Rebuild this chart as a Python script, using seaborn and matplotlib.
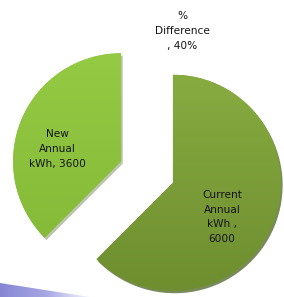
import numpy as np
import matplotlib
matplotlib.use("Agg")
import matplotlib.pyplot as plt
import matplotlib.patheffects as pe
from matplotlib.colors import LinearSegmentedColormap
from matplotlib.patches import Polygon
import seaborn as sns

# data
categories = ["Current Annual kWh", "New Annual kWh", "% Difference"]
values = [6000, 3600, 0.4]
value_labels = ["6000", "3600", "40%"]

# how each data label is broken over lines in the picture
label_text = [
    "Current\nAnnual\nkWh ,\n" + value_labels[0],
    "New\nAnnual\nkWh, " + value_labels[1],
    "%\nDifference\n, " + value_labels[2],
]

sns.set_theme(style="white")
plt.rcParams['font.family'] = ['DejaVu Sans']

W, H = 284, 297
fig = plt.figure(figsize=(W / 100, H / 100), dpi=100)
ax = fig.add_axes([0, 0, 1, 1])

R = 108
# pie explode is given in data units here (pixels)
wedges, _ = ax.pie(
    values, explode=[0.26 * R, 0.26 * R, 0], radius=R, center=(147, 125),
    startangle=90, counterclock=False,
    colors=["#7a9b37", "#8bc23d", "none"],
    wedgeprops=dict(linewidth=0),
)

# excel-ish shading on the two visible slices
shades = [("#6e8e2f", "#88ab41"), ("#83b837", "#95ca44")]
shadow_alpha = [0.7, 0.35]
grad = np.linspace(0, 1, 256).reshape(-1, 1)
for w, (lo, hi), sa in zip(wedges[:2], shades, shadow_alpha):
    w.set_path_effects([
        pe.SimplePatchShadow(offset=(1.2, -1.8), shadow_rgbFace="#3f5716", alpha=sa),
        pe.Normal(),
    ])
    cx, cy = w.center
    cmap = LinearSegmentedColormap.from_list("s", [lo, hi])
    im = ax.imshow(grad, extent=[cx - R, cx + R, cy - R, cy + R], origin="lower",
                   cmap=cmap, aspect="auto", zorder=w.get_zorder() + 0.1)
    im.set_clip_path(w)
wedges[2].set_visible(False)

# label positions (pixels from top-left)
label_pos = [(222, 217), (57, 149), (182, 31)]
for txt, (px, py) in zip(label_text, label_pos):
    ax.text(px, H - py, txt, ha="center", va="center", fontsize=7.6,
            color="#141414", linespacing=1.6, zorder=5)

# slide decoration in the lower left corner
band = Polygon([(0, 14), (90, 0), (0, 0)], closed=True, facecolor="none", edgecolor="none")
ax.add_patch(band)
bcmap = LinearSegmentedColormap.from_list("b", ["#8686d4", "#a8a8e4", "#ffffff"])
bim = ax.imshow(np.linspace(0, 1, 256).reshape(1, -1), extent=[0, 95, 0, 14],
                cmap=bcmap, aspect="auto", zorder=1)
bim.set_clip_path(band)

ax.set_xlim(0, W)
ax.set_ylim(0, H)
ax.set_axis_off()

fig.savefig("out.png", dpi=100)
